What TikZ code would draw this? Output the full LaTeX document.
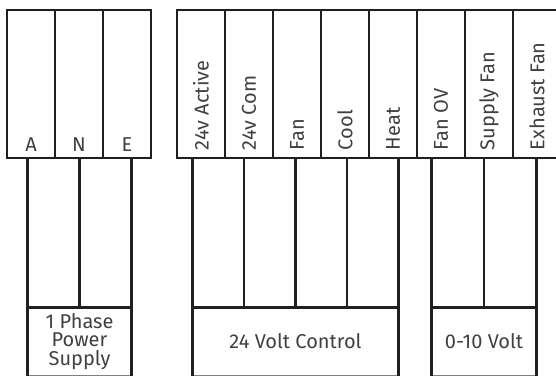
\documentclass[tikz,border=0pt]{standalone}
\usepackage{fontspec}
\setmainfont{Fira Sans}
\usepackage{tikz}
\usetikzlibrary{calc}

\definecolor{linie}{HTML}{231F20}
\definecolor{schrift}{HTML}{404040}
\newcommand{\bezfont}{\fontsize{20}{18.5}\selectfont}

\begin{document}
\begin{tikzpicture}[x=1pt,y=-1pt,
	klemme/.style={draw=linie,line width=2.6pt,minimum width=48pt,minimum height=148pt,inner sep=0pt},
	gruppe/.style={draw=gray,line width=1pt,minimum height=67pt,inner sep=0pt,text=schrift,font=\bezfont,align=center},
	draht/.style={draw=linie,line width=2.6pt},
	hbez/.style={text=schrift,font=\bezfont,anchor=base,inner sep=0pt},
	vbez/.style={text=schrift,font=\bezfont,rotate=90,anchor=west,inner sep=0pt}]
	% Bildausschnitt: 556 x 376
	\clip (0,0) rectangle (556,376);
	% Klemmen Netz
	\foreach \name/\txt [count=\i from 0] in {a/A,n/N,e/E} {
		\node[klemme] (\name) at ({31+48*\i},84) {};
		\node[hbez] at ($(\name.south)+(0,-8)$) {\txt};
	}
	% Klemmen Steuerung
	\foreach \name/\txt [count=\i from 0] in {act/24v Active,com/24v Com,fan/Fan,cool/Cool,heat/Heat,fanov/Fan OV,supply/Supply Fan,exhaust/Exhaust Fan} {
		\node[klemme] (\name) at ({201+48*\i},84) {};
		\node[vbez] at ($(\name.south)+(0,-9)$) {\txt};
	}
	% Gruppen unten
	\node[gruppe,minimum width=103pt] (phase) at (79.5,341.5) {1 Phase\\Power\\Supply};
	\node[gruppe,minimum width=205pt] (ctrl) at (295.5,341.5) {24 Volt Control};
	\node[gruppe,minimum width=104pt] (volt) at (484,341.5) {0-10 Volt};
	% Leitungen: aussen bis zum Boden, innen bis zur Gruppe
	\foreach \grp/\kl in {phase/a,ctrl/act,volt/fanov} {
		\draw[draht] (\grp.north west) -- (\grp.north east);
		\draw[draht] (\grp.south west) -- (\grp.south west |- \kl.south);
		\draw[draht] (\grp.south east) -- (\grp.south east |- \kl.south);
	}
	\foreach \grp/\kl/\f in {phase/a/0.5,ctrl/act/0.25,ctrl/act/0.5,ctrl/act/0.75,volt/fanov/0.5}
	\draw[draht] ($(\grp.north west)!\f!(\grp.north east)$) coordinate (w) -- (w |- \kl.south);
\end{tikzpicture}
\end{document}
